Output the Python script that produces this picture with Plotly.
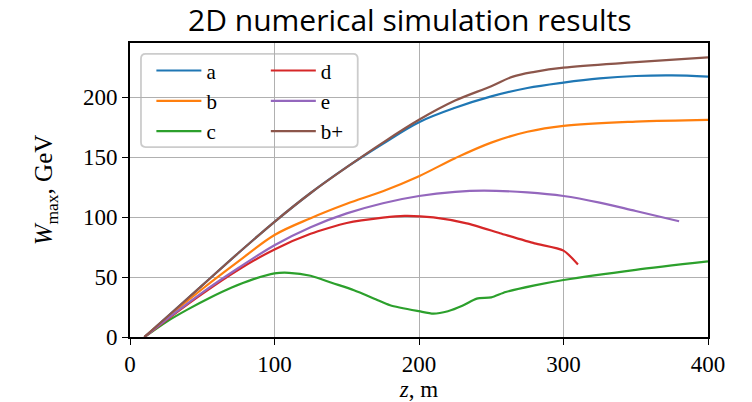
import plotly.graph_objects as go

# Simulation output: distance z (m) and maximum energy W_max (GeV) per run
z_a = [10, 30, 50, 75, 100, 125, 150, 175, 200, 225, 250, 275, 300, 325, 350, 375, 400]
w_a = [0, 21.5, 43, 70, 96, 120, 141.5, 161, 179, 191, 200.5, 207.5, 212, 215.5, 217.5, 218, 217]

z_b = [10, 30, 50, 75, 100, 125, 150, 175, 200, 225, 250, 275, 300, 350, 400]
w_b = [0, 20.5, 40, 63, 85, 99, 111, 121.5, 134, 149, 162, 171, 176, 179.5, 181]

z_c = [10, 25, 40, 55, 70, 85, 100, 110, 125, 140, 155, 170, 180, 200, 210,
       220, 230, 240, 250, 260, 280, 300, 350, 400]
w_c = [0, 12.5, 23, 32.5, 41, 48, 53, 53.5, 51, 45, 39, 31.5, 26.5, 21.5, 19.5,
       21.5, 26, 32, 33, 37.5, 43, 47.5, 56, 63]

z_d = [10, 30, 50, 75, 100, 125, 150, 175, 190, 210, 233, 256, 280, 300, 310]
w_d = [0, 18.5, 36, 56, 73, 86, 95, 99.5, 101, 99.7, 94.7, 86.5, 78, 72, 60.5]

z_e = [10, 30, 50, 75, 100, 125, 150, 175, 200, 225, 245, 275, 300, 325, 350, 380]
w_e = [0, 19, 37, 57.5, 76.5, 91.5, 103, 111.5, 117.5, 121, 122, 120.5, 117.5, 112, 105, 96.5]

z_bp = [10, 30, 50, 75, 100, 125, 150, 175, 200, 225, 250, 265, 280, 300, 350, 400]
w_bp = [0, 21.5, 43, 70, 96, 120, 141.5, 162, 181, 197, 209, 217, 221, 224.5, 229, 233]

x_ticks = [0, 100, 200, 300, 400]
y_ticks = [0, 50, 100, 150, 200]

# (name, z, W, colour, legend column, spline smoothing)
series = [
    ("a", z_a, w_a, "#1f77b4", "legend", 1.0),
    ("b", z_b, w_b, "#ff7f0e", "legend", 1.0),
    ("c", z_c, w_c, "#2ca02c", "legend", 0.7),
    ("d", z_d, w_d, "#d62728", "legend2", 0.6),
    ("e", z_e, w_e, "#9467bd", "legend2", 1.0),
    ("b+", z_bp, w_bp, "#8c564b", "legend2", 1.0),
]

serif = "Liberation Serif"

fig = go.Figure()
for name, zs, ws, color, leg, smooth in series:
    fig.add_trace(go.Scatter(
        x=zs, y=ws, mode="lines", name=name, legend=leg,
        line=dict(color=color, width=2.2, shape="spline", smoothing=smooth),
    ))

legend_style = dict(
    bgcolor="rgba(0,0,0,0)", borderwidth=0,
    font=dict(family=serif, size=21, color="black"),
    xanchor="left", yanchor="top", tracegroupgap=0,
    itemwidth=45,
)

# rounded legend frame (paper coordinates)
bx0, bx1, by0, by1 = 0.019, 0.394, 0.646, 0.963
rx, ry = 0.008, 0.016
frame_path = (
    f"M{bx0 + rx},{by1} L{bx1 - rx},{by1} Q{bx1},{by1} {bx1},{by1 - ry} "
    f"L{bx1},{by0 + ry} Q{bx1},{by0} {bx1 - rx},{by0} "
    f"L{bx0 + rx},{by0} Q{bx0},{by0} {bx0},{by0 + ry} "
    f"L{bx0},{by1 - ry} Q{bx0},{by1} {bx0 + rx},{by1} Z"
)

axis_common = dict(
    showline=True, linecolor="black", linewidth=1.6, mirror=True,
    ticks="outside", ticklen=6, tickwidth=1.4, tickcolor="black",
    showgrid=True, gridcolor="#b0b0b0", gridwidth=1,
    zeroline=False, automargin=False,
    tickfont=dict(family=serif, size=23, color="black"),
)

fig.update_layout(
    width=752, height=402,
    margin=dict(l=130, r=44, t=43, b=65),
    paper_bgcolor="white", plot_bgcolor="white",
    title=dict(text="2D numerical simulation results", xref="container", x=0.545,
               xanchor="center", y=0.948, yanchor="middle",
               font=dict(family="Open Sans", size=30, color="black")),
    xaxis=dict(
        range=[0, 400], tickvals=x_ticks, ticktext=[str(v) for v in x_ticks],
        title=dict(text="<i>z</i>, m", standoff=2,
                   font=dict(family=serif, size=23, color="black")),
        **axis_common,
    ),
    yaxis=dict(
        range=[0, 245], tickvals=y_ticks, ticktext=[str(v) for v in y_ticks],
        title=dict(text="<i>W</i><sub>max</sub>, GeV", standoff=23,
                   font=dict(family=serif, size=25, color="black")),
        **axis_common,
    ),
    legend=dict(x=0.037, y=0.975, **legend_style),
    legend2=dict(x=0.235, y=0.975, **legend_style),
    shapes=[dict(type="path", xref="paper", yref="paper", path=frame_path,
                 line=dict(color="#cccccc", width=1.8),
                 fillcolor="rgba(255,255,255,0.8)", layer="below")],
)

fig.write_html("out.html")
